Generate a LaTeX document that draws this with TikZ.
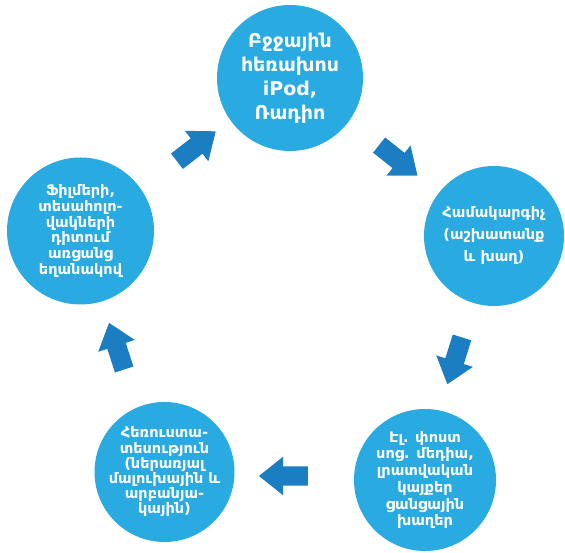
\documentclass[tikz,border=0pt]{standalone}
\usepackage{fontspec}
\setmainfont{DejaVu Sans}
\usetikzlibrary{shapes.arrows}
\definecolor{discblue}{HTML}{29ABE2}
\definecolor{flowblue}{HTML}{1B7EC2}

\begin{document}
\begin{tikzpicture}[x=1pt, y=1pt,
  disc/.style={circle, fill=discblue, inner sep=0pt},
  txt/.style={text=white, align=center, font=\bfseries\fontsize{14.5}{15.8}\selectfont},
  flow/.style={single arrow, fill=flowblue, minimum height=49pt, single arrow head extend=9.5pt, single arrow tip angle=77, inner xsep=0pt, inner ysep=9.5pt}
]
\useasboundingbox (0,0) rectangle (565,553);

\node[disc, minimum size=146pt] (c1) at (290,475) {};
\node[disc, minimum size=140pt] (c2) at (494,317) {};
\node[disc, minimum size=142pt] (c3) at (425,73) {};
\node[disc, minimum size=140pt] (c4) at (164.5,81) {};
\node[disc, minimum size=147pt] (c5) at (80.5,322) {};

\node[txt, font=\bfseries\fontsize{19}{24}\selectfont] (t1) at (c1) {Բջջային\\հեռախոս\\iPod,\\Ռադիո};
\node[txt, font=\bfseries\fontsize{14.5}{22}\selectfont] (t2) at (c2) {Համակարգիչ\\(աշխատանք\\և խաղ)};
\node[txt, font=\bfseries\fontsize{14.5}{16.7}\selectfont] (t3) at (c3) {Էլ. փոստ\\սոց. մեդիա,\\լրատվական\\կայքեր\\ցանցային\\խաղեր};
\node[txt, font=\bfseries\fontsize{14.5}{15.2}\selectfont] (t4) at (c4) {Հեռուստա-\\տեսություն\\(ներառյալ\\մալուխային և\\արբանյա-\\կային)};
\node[txt] (t5) at (c5) {Ֆիլմերի,\\տեսահոլո-\\վակների\\դիտում\\առցանց\\եղանակով};

\node[flow, rotate=37.6] (a1) at (191.5,403) {};
\node[flow, rotate=-38.5] (a2) at (393.5,396.5) {};
\node[flow, rotate=-107.4] (a3) at (456.5,198) {};
\node[flow, rotate=180] (a4) at (289.5,77) {};
\node[flow, rotate=108] (a5) at (118.5,201) {};
\end{tikzpicture}
\end{document}
